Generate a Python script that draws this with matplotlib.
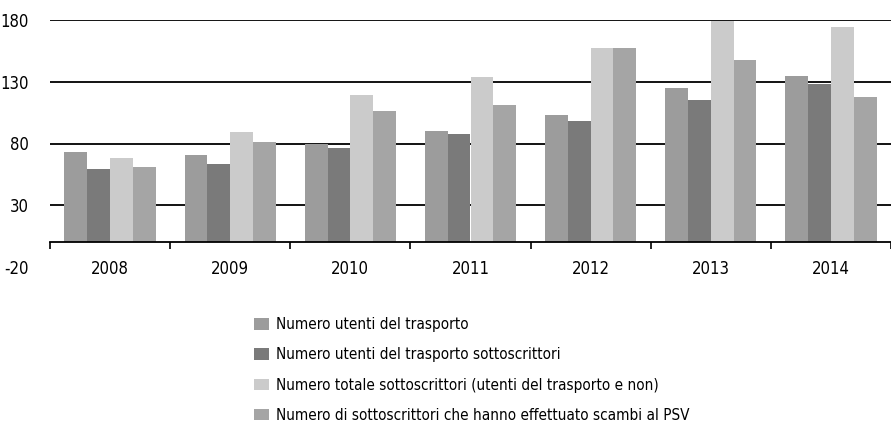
import matplotlib
matplotlib.use("Agg")
import matplotlib.pyplot as plt
import numpy as np
from matplotlib.ticker import FixedLocator

plt.rcParams['font.family'] = ['DejaVu Sans']
plt.rcParams['font.stretch'] = 'condensed'

years = ["2008", "2009", "2010", "2011", "2012", "2013", "2014"]
series_names = [
    "Numero utenti del trasporto",
    "Numero utenti del trasporto sottoscrittori",
    "Numero totale sottoscrittori (utenti del trasporto e non)",
    "Numero di sottoscrittori che hanno effettuato scambi al PSV",
]
utenti = [73, 71, 80, 90, 103, 125, 135]
utenti_sottoscrittori = [59, 63, 76, 88, 98, 115, 128]
totale_sottoscrittori = [68, 89, 119, 134, 157, 179, 174]
scambi_psv = [61, 81, 106, 111, 157, 148, 118]
yticks = [-20, 30, 80, 130, 180]

series = [utenti, utenti_sottoscrittori, totale_sottoscrittori, scambi_psv]
colors = ["#9c9c9c", "#7a7a7a", "#cbcbcb", "#a5a5a5"]

fig = plt.figure(figsize=(8.91, 4.30), dpi=100)
ax = fig.add_axes([50/891, 1 - 267/430, 1 - 50/891, (267 - 20)/430])

x = np.arange(len(years))
w = 0.19
handles = []
for i, (vals, c) in enumerate(zip(series, colors)):
    b = ax.bar(x + (i - 1.5) * w, vals, width=w, color=c, zorder=3, label=series_names[i])
    handles.append(b)

ax.set_xlim(-0.5, len(years) - 0.5)
ax.set_ylim(-20, 180)

for v in yticks[1:]:
    ax.axhline(v, color="black", lw=1.3, zorder=1)

ax.set_yticks(yticks)
ax.set_yticklabels([str(v) for v in yticks], fontsize=12)
ax.tick_params(axis="y", length=0, pad=15)

for s in ["left", "right", "top"]:
    ax.spines[s].set_visible(False)
ax.spines["bottom"].set_position(("data", 0))
ax.spines["bottom"].set_linewidth(1.3)
ax.spines["bottom"].set_zorder(4)

ax.set_xticks(x)
ax.set_xticklabels(years, fontsize=12)
ax.tick_params(axis="x", which="major", length=0, pad=13)
ax.xaxis.set_minor_locator(FixedLocator(np.arange(-0.5, len(years), 1.0)))
ax.tick_params(axis="x", which="minor", length=5, width=1.2, direction="out")

leg = fig.legend(handles=handles, labels=series_names, loc="upper left",
                 bbox_to_anchor=(248/891, 1 - 311/430), frameon=False,
                 fontsize=11, handlelength=1.0, handleheight=0.8,
                 handletextpad=0.45, labelspacing=1.0, borderaxespad=0)

fig.savefig("out.png", dpi=100)
